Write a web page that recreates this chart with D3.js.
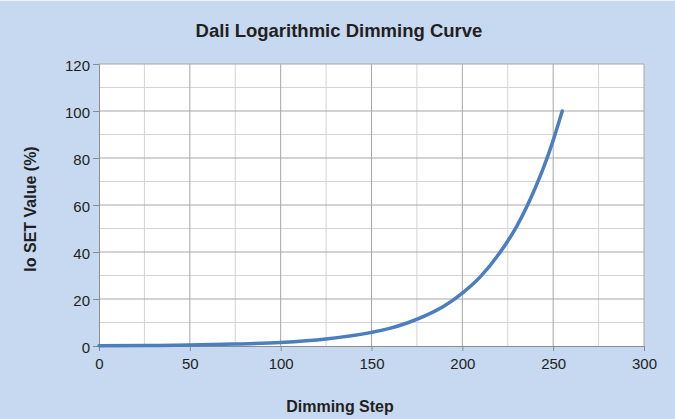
<!DOCTYPE html>
<html>
<head>
<meta charset="utf-8">
<script src="https://cdn.jsdelivr.net/npm/d3@7"></script>
<style>
  body { margin: 0; background: #c6d9f0; }
  svg { display: block; font-family: "Liberation Sans", Arial, sans-serif; }
</style>
</head>
<body>
<script>
// dimming steps and the IO set value (%)
const steps = [0, 25, 50, 75, 100, 125, 150, 160, 170, 180, 190, 200, 210, 220, 230, 240, 245, 250, 255];
const values = [0.1, 0.2, 0.4, 0.8, 1.5, 3.0, 5.8, 7.5, 9.9, 13, 17, 22.5, 29.5, 39, 51, 67, 76.5, 87.5, 100];
const xTicks = [0, 50, 100, 150, 200, 250, 300];
const yTicks = [0, 20, 40, 60, 80, 100, 120];

const W = 675, H = 419;
const margin = {top: 64, right: 31, bottom: 73, left: 99};

const svg = d3.select("body").append("svg")
  .attr("width", W)
  .attr("height", H);

svg.append("rect").attr("width", W).attr("height", H).attr("fill", "#c6d9f0");
svg.append("line").attr("x1", 0).attr("x2", W).attr("y1", 0.5).attr("y2", 0.5)
  .attr("stroke", "#eef3fa");

const x = d3.scaleLinear().domain([0, 300]).range([margin.left, W - margin.right]);
const y = d3.scaleLinear().domain([0, 120]).range([H - margin.bottom, margin.top]);

const g = svg.append("g");

g.append("rect")
  .attr("x", x(0)).attr("y", y(120))
  .attr("width", x(300) - x(0)).attr("height", y(0) - y(120))
  .attr("fill", "#fff");

// minor grid
g.selectAll(".vminor").data(d3.range(25, 300, 50)).join("line")
  .attr("x1", d => x(d)).attr("x2", d => x(d))
  .attr("y1", y(0)).attr("y2", y(120))
  .attr("stroke", "#d4d4d4").attr("stroke-width", 1);
g.selectAll(".hminor").data(d3.range(10, 120, 20)).join("line")
  .attr("y1", d => y(d)).attr("y2", d => y(d))
  .attr("x1", x(0)).attr("x2", x(300))
  .attr("stroke", "#d4d4d4").attr("stroke-width", 1);

// major grid
g.selectAll(".vmajor").data(xTicks.slice(1)).join("line")
  .attr("x1", d => x(d)).attr("x2", d => x(d))
  .attr("y1", y(0)).attr("y2", y(120))
  .attr("stroke", "#a6a6a6").attr("stroke-width", 1);
g.selectAll(".hmajor").data(yTicks.slice(1)).join("line")
  .attr("y1", d => y(d)).attr("y2", d => y(d))
  .attr("x1", x(0)).attr("x2", x(300))
  .attr("stroke", "#a6a6a6").attr("stroke-width", 1);

// axes
const xAxis = svg.append("g")
  .attr("transform", `translate(0,${y(0)})`)
  .call(d3.axisBottom(x).tickValues(xTicks).tickSize(5).tickPadding(7));
const yAxis = svg.append("g")
  .attr("transform", `translate(${x(0)},0)`)
  .call(d3.axisLeft(y).tickValues(yTicks).tickSize(6).tickPadding(3));

[xAxis, yAxis].forEach(a => {
  a.select(".domain").attr("stroke", "#8c8c8c");
  a.selectAll(".tick line").attr("stroke", "#8c8c8c");
  a.selectAll(".tick text")
    .attr("fill", "#231f20")
    .style("font-size", "15px")
    .style("font-family", "'Liberation Sans', Arial, sans-serif");
});
yAxis.selectAll(".tick text").attr("dy", "0.45em");

// curve
const line = d3.line()
  .x((d, i) => x(steps[i]))
  .y(d => y(d))
  .curve(d3.curveMonotoneX);

svg.append("path")
  .datum(values)
  .attr("d", line)
  .attr("fill", "none")
  .attr("stroke", "#4a7ebf")
  .attr("stroke-width", 3.5)
  .attr("stroke-linecap", "round");

// titles
svg.append("text")
  .attr("x", 339).attr("y", 37)
  .attr("text-anchor", "middle")
  .attr("font-weight", "bold")
  .attr("font-size", 18.5)
  .attr("fill", "#231f20")
  .text("Dali Logarithmic Dimming Curve");

svg.append("text")
  .attr("x", 340).attr("y", 411.5)
  .attr("text-anchor", "middle")
  .attr("font-weight", "bold")
  .attr("font-size", 16)
  .attr("fill", "#231f20")
  .text("Dimming Step");

svg.append("text")
  .attr("transform", "translate(36,209) rotate(-90)")
  .attr("text-anchor", "middle")
  .attr("font-weight", "bold")
  .attr("font-size", 16)
  .attr("fill", "#231f20")
  .text("Io SET Value (%)");
</script>
</body>
</html>
